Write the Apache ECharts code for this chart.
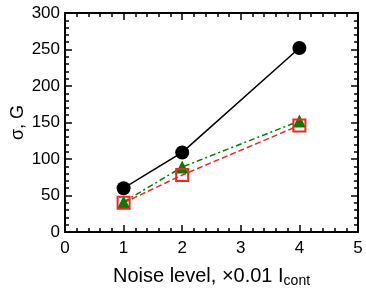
<!DOCTYPE html>
<html><head><meta charset="utf-8">
<script src="https://cdn.jsdelivr.net/npm/echarts@6/dist/echarts.min.js"></script>
<style>html,body{margin:0;padding:0;background:#fff}#c{width:366px;height:293px}</style>
</head><body><div id="c"></div>
<script>
var xNoise = [1, 2, 4];
var blackVals = [60, 109, 252];
var greenVals = [41, 89, 152];
var redVals = [40, 78, 146];
var xTicks = [0, 1, 2, 3, 4, 5];
var yTicks = [0, 50, 100, 150, 200, 250, 300];

function pairs(v){ return xNoise.map(function(x,i){ return [x, v[i]]; }); }
var F = 'Liberation Sans, Arial, sans-serif';
var ch = echarts.init(document.getElementById('c'));
function axX(show){
  return {type:'value', min:0, max:5, interval:1, position: show?'bottom':'top',
    axisLine:{show:true, onZero:false, lineStyle:{color:'#000', width:2}},
    axisTick:{show:true, inside:true, length:7, lineStyle:{color:'#000', width:1.5}},
    minorTick:{show:true, splitNumber:5, length:4, lineStyle:{color:'#000', width:1.5}},
    axisLabel:{show:show, color:'#000', fontSize:17, fontFamily:F, margin:8},
    splitLine:{show:false},
    name: show ? '{a|Noise level, ×0.01 I}{s|cont}' : '', nameLocation:'middle', nameGap:33,
    nameMoveOverlap:false,
    nameTextStyle:{rich:{a:{fontSize:20, fontFamily:F, color:'#000'}, s:{fontSize:14, fontFamily:F, color:'#000', verticalAlign:'bottom', padding:[9,0,0,0]}}}
  };
}
function axY(show){
  return {type:'value', min:0, max:300, interval:50, position: show?'left':'right',
    axisLine:{show:true, onZero:false, lineStyle:{color:'#000', width:2}},
    axisTick:{show:true, inside:true, length:7, lineStyle:{color:'#000', width:1.5}},
    minorTick:{show:true, splitNumber:5, length:4, lineStyle:{color:'#000', width:1.5}},
    axisLabel:{show:show, color:'#000', fontSize:17, fontFamily:F, margin:5},
    splitLine:{show:false},
    name: show ? 'σ, G' : '', nameLocation:'middle', nameGap:38, nameRotate:90,
    nameMoveOverlap:false,
    nameTextStyle:{fontSize:18, fontFamily:F, color:'#000'}
  };
}
ch.setOption({
  animation:false,
  grid:{left:65, right:8, top:13, bottom:61, outerBoundsMode:'none', containLabel:false},
  xAxis:[axX(true), axX(false)],
  yAxis:[axY(true), axY(false)],
  series:[
    {type:'line', data:pairs(blackVals), symbol:'circle', symbolSize:14,
     itemStyle:{color:'#000'}, lineStyle:{color:'#000', width:1.5}},
    {type:'line', data:pairs(greenVals), symbol:'triangle', symbolSize:13,
     itemStyle:{color:'#008000'}, lineStyle:{color:'#008000', width:1.5, type:[6,3,2,3]}},
    {type:'line', data:pairs(redVals), symbol:'rect', symbolSize:12,
     itemStyle:{color:'transparent', borderColor:'#ff2020', borderWidth:2}, lineStyle:{color:'#ff2020', width:1.5, type:[6,3]}}
  ]
});
</script></body></html>
